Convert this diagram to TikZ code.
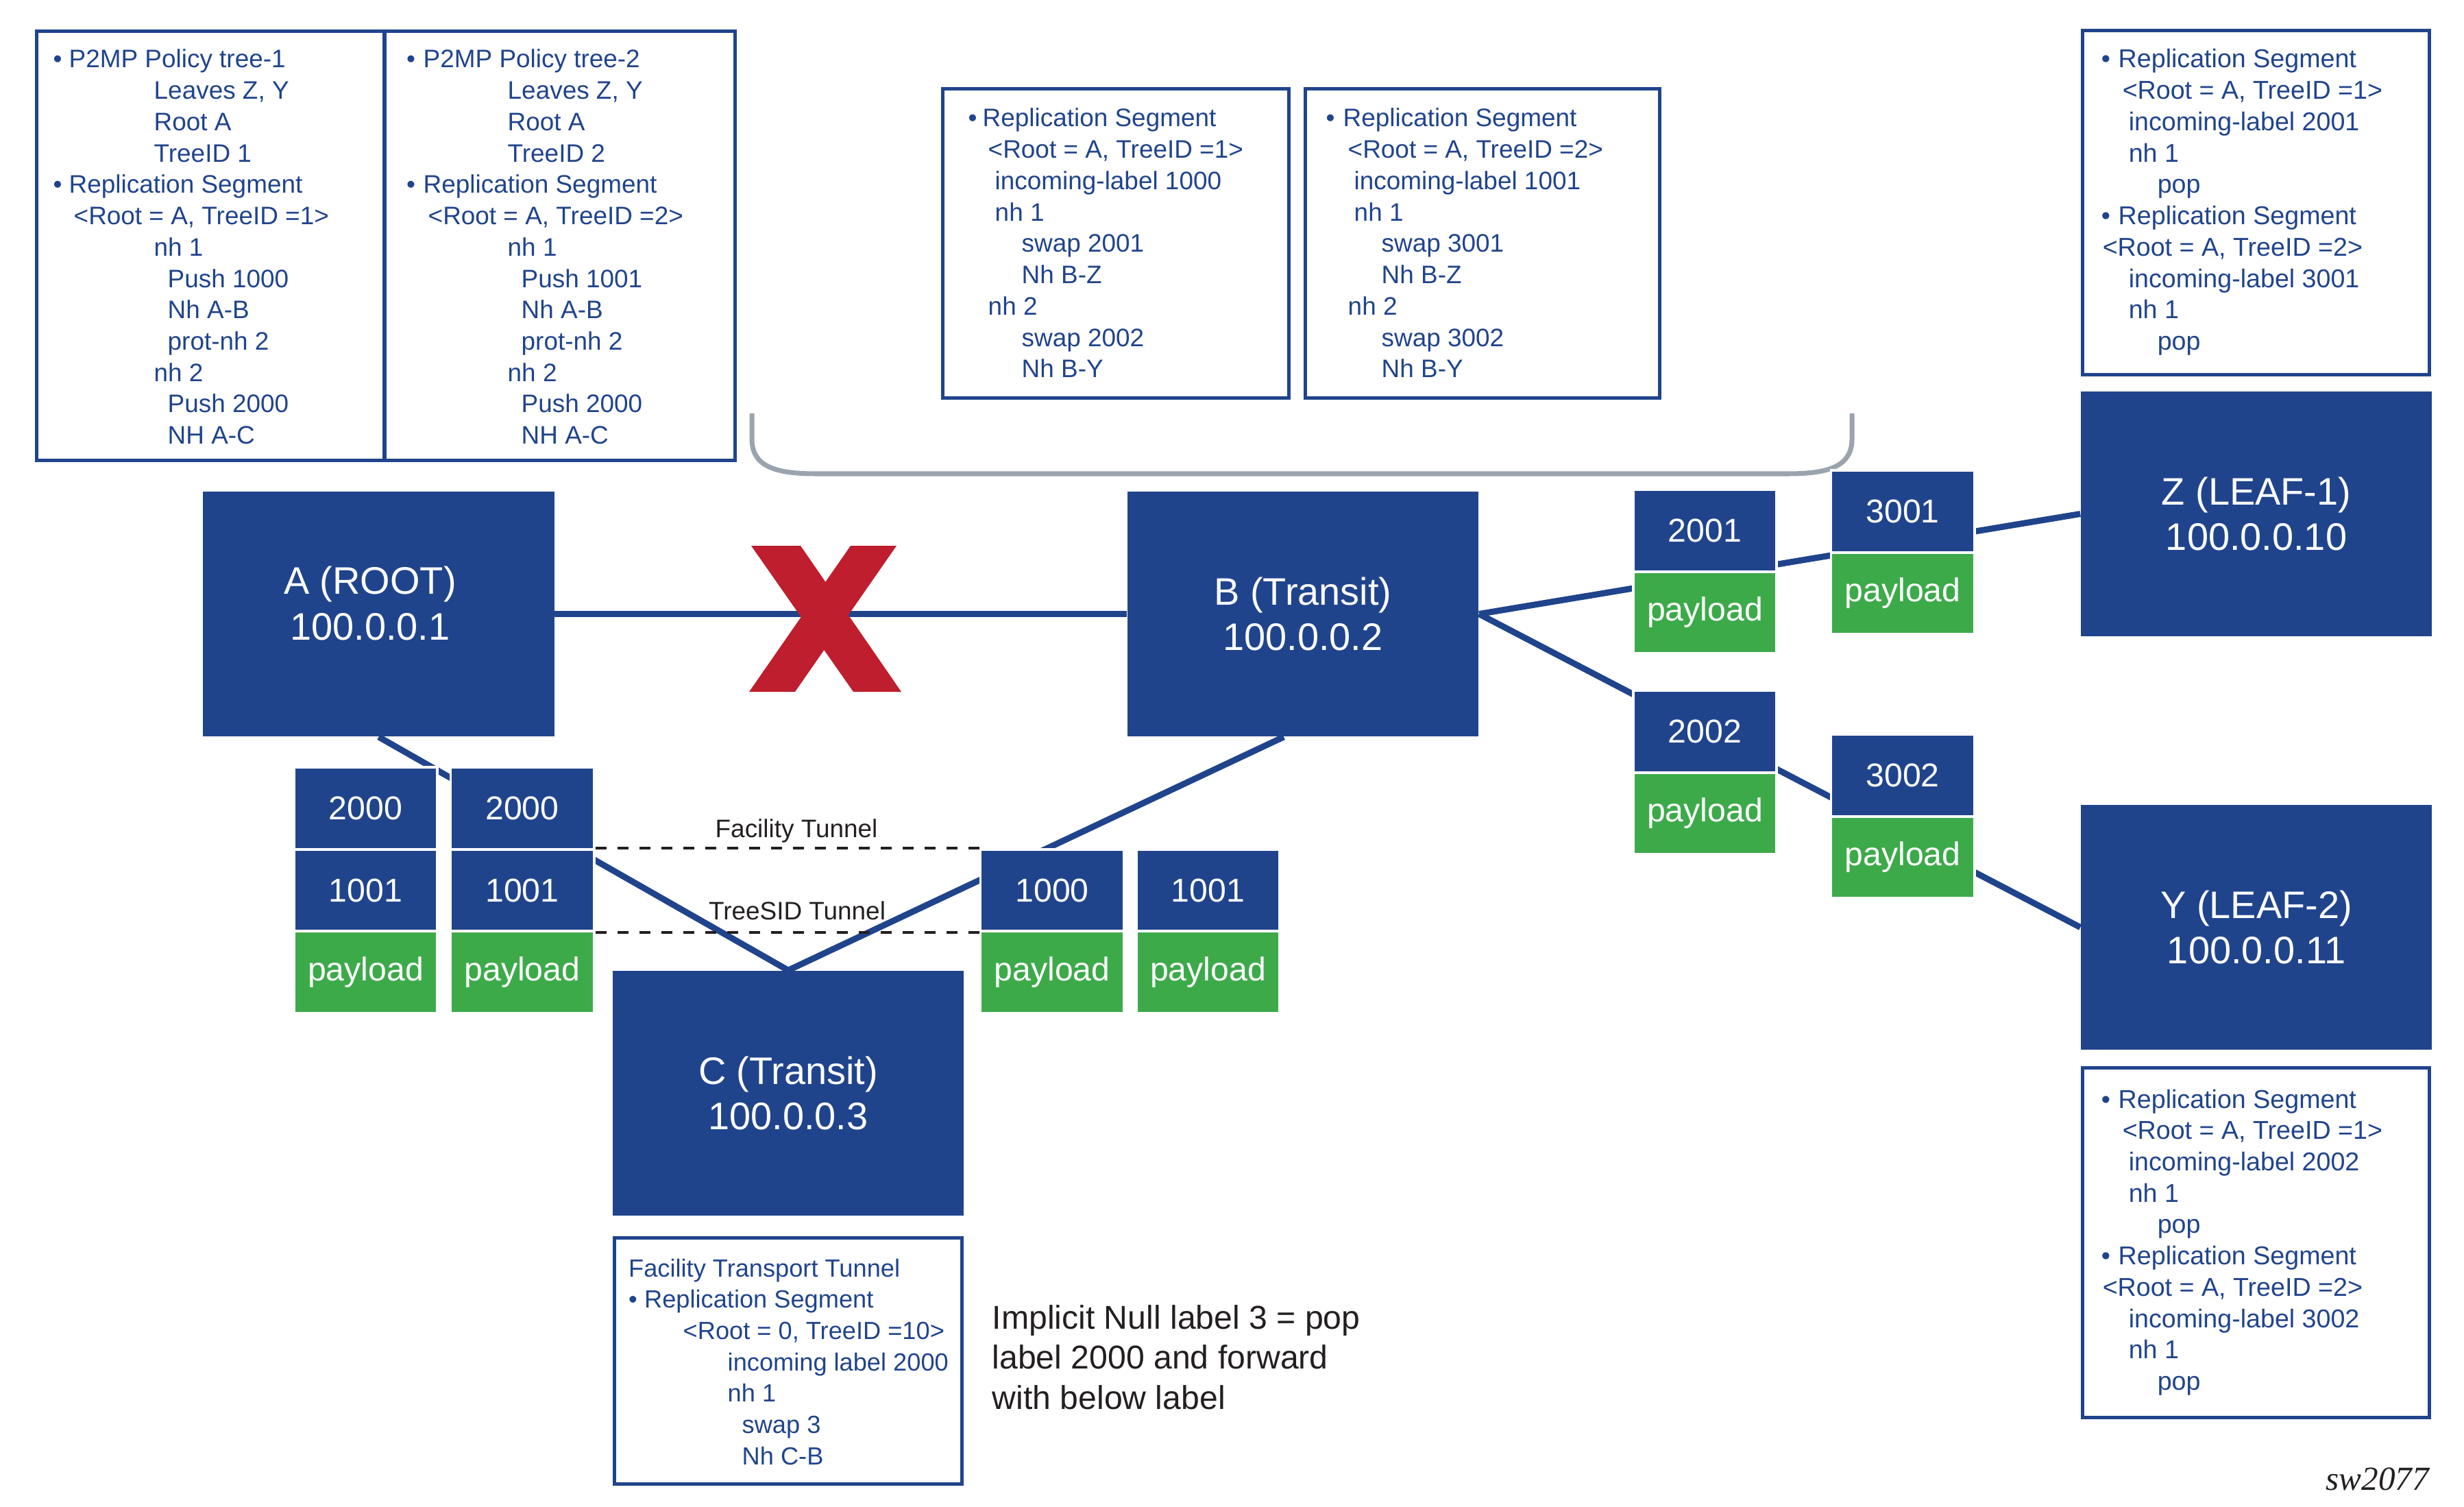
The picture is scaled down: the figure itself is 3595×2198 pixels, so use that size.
\documentclass[tikz,border=0pt]{standalone}
\usepackage{fontspec}
\setmainfont{Liberation Sans}
\newfontfamily\serifit{Liberation Serif}
\usetikzlibrary{calc}
\definecolor{nblue}{HTML}{20448C}
\definecolor{ngreen}{HTML}{3DAA4A}
\definecolor{ngray}{HTML}{9AA3AE}
\definecolor{nred}{HTML}{BE1E2D}
\definecolor{ndark}{HTML}{231F20}
\newlength\pxu \setlength\pxu{0.01cm}
\newcommand\Ln[2]{\mbox{}\hspace*{#1\pxu}#2\par}
\newcommand\Bl[3]{\mbox{}\hspace*{#1\pxu}\makebox[#2\pxu][l]{•}#3\par}
\newcommand\Tbox[2]{\parbox[t]{600\pxu}{\fontsize{#1}{13pt}\selectfont #2}}
\tikzset{
  router/.style={fill=nblue, minimum width=5.12cm, minimum height=3.57cm, inner sep=0pt},
  rtext/.style={text=white, font=\fontsize{15.9pt}{19pt}\selectfont, align=center},
  lbl/.style={fill=nblue, draw=white, line width=1.1pt, text=white, minimum width=2.09cm, minimum height=1.195cm, inner sep=0pt, font=\fontsize{13.7pt}{16pt}\selectfont},
  pay/.style={lbl, fill=ngreen},
  infobox/.style={draw=nblue, line width=1.42pt, inner sep=0pt},
  infotext/.style={anchor=base west, inner sep=0pt, text=nblue},
  link/.style={draw=nblue, line width=2.56pt},
  tunnel/.style={draw=ndark, line width=1.14pt, dash pattern=on 4.8pt off 4.3pt},
  tunlabel/.style={anchor=base, inner sep=0pt, text=ndark, font=\fontsize{10.5pt}{12pt}\selectfont},
}
\begin{document}
\begin{tikzpicture}[x=0.01cm, y=-0.01cm]
\useasboundingbox (0,0) rectangle (3595,2198);

% ---------- info boxes ----------
\node[infobox, minimum width=5.075cm, minimum height=6.26cm] (T1) at (307.25,358.5) {};
\node[infobox, minimum width=5.115cm, minimum height=6.26cm] (T2) at (816.75,358.5) {};
\node[infobox, minimum width=5.05cm, minimum height=4.51cm] (M1) at (1628,355) {};
\node[infobox, minimum width=5.17cm, minimum height=4.51cm] (M2) at (2163,355) {};
\node[infobox, minimum width=5.06cm, minimum height=5.02cm] (R1) at (3291.5,295.5) {};
\node[infobox, minimum width=5.06cm, minimum height=5.10cm] (R2) at (3291.5,1812.5) {};
\node[infobox, minimum width=5.07cm, minimum height=3.59cm] (F) at (1150,1985) {};

\node[infotext] (T1t) at (51,99) {\Tbox{10.5pt}{%
\Bl{26}{23}{P2MP Policy tree-1}
\Ln{173}{Leaves Z, Y}
\Ln{173}{Root A}
\Ln{173}{TreeID 1}
\Bl{26}{23}{Replication Segment}
\Ln{56}{<Root = A, TreeID =1>}
\Ln{173}{nh 1}
\Ln{193}{Push 1000}
\Ln{193}{Nh A-B}
\Ln{193}{prot-nh 2}
\Ln{173}{nh 2}
\Ln{193}{Push 2000}
\Ln{193}{NH A-C}}};

\node[infotext] (T2t) at (561,99) {\Tbox{10.5pt}{%
\Bl{31.5}{24.5}{P2MP Policy tree-2}
\Ln{179}{Leaves Z, Y}
\Ln{179}{Root A}
\Ln{179}{TreeID 2}
\Bl{31.5}{24.5}{Replication Segment}
\Ln{63}{<Root = A, TreeID =2>}
\Ln{179}{nh 1}
\Ln{199}{Push 1001}
\Ln{199}{Nh A-B}
\Ln{199}{prot-nh 2}
\Ln{179}{nh 2}
\Ln{199}{Push 2000}
\Ln{199}{NH A-C}}};

\node[infotext] (M1t) at (1373,185) {\Tbox{10.5pt}{%
\Bl{39}{21}{Replication Segment}
\Ln{68}{<Root = A, TreeID =1>}
\Ln{78}{incoming-label 1000}
\Ln{78}{nh 1}
\Ln{117}{swap 2001}
\Ln{117}{Nh B-Z}
\Ln{68}{nh 2}
\Ln{117}{swap 2002}
\Ln{117}{Nh B-Y}}};

\node[infotext] (M2t) at (1902,185) {\Tbox{10.5pt}{%
\Bl{32}{25}{Replication Segment}
\Ln{64}{<Root = A, TreeID =2>}
\Ln{73}{incoming-label 1001}
\Ln{73}{nh 1}
\Ln{113}{swap 3001}
\Ln{113}{Nh B-Z}
\Ln{64}{nh 2}
\Ln{113}{swap 3002}
\Ln{113}{Nh B-Y}}};

\node[infotext] (R1t) at (3036,99) {\Tbox{10.7pt}{%
\Bl{29}{25}{Replication Segment}
\Ln{60}{<Root = A, TreeID =1>}
\Ln{69}{incoming-label 2001}
\Ln{69}{nh 1}
\Ln{111}{pop}
\Bl{29}{25}{Replication Segment}
\Ln{31}{<Root = A, TreeID =2>}
\Ln{69}{incoming-label 3001}
\Ln{69}{nh 1}
\Ln{111}{pop}}};

\node[infotext] (R2t) at (3036,1616) {\Tbox{10.7pt}{%
\Bl{29}{25}{Replication Segment}
\Ln{60}{<Root = A, TreeID =1>}
\Ln{69}{incoming-label 2002}
\Ln{69}{nh 1}
\Ln{111}{pop}
\Bl{29}{25}{Replication Segment}
\Ln{31}{<Root = A, TreeID =2>}
\Ln{69}{incoming-label 3002}
\Ln{69}{nh 1}
\Ln{111}{pop}}};

\node[infotext] (Ft) at (894,1862) {\Tbox{10.3pt}{%
\Ln{22.5}{Facility Transport Tunnel}
\Bl{22.5}{23}{Replication Segment}
\Ln{102}{<Root = 0, TreeID =10>}
\Ln{167}{incoming label 2000}
\Ln{167}{nh 1}
\Ln{188}{swap 3}
\Ln{188}{Nh C-B}}};

% ---------- brace ----------
\draw[ngray, line width=2pt] (1097,603) -- (1097,640) .. controls (1097,680) and (1130,691) .. (1191,691) -- (2608,691) .. controls (2669,691) and (2702,680) .. (2702,640) -- (2702,603);

% ---------- routers ----------
\node[router] (A) at (552.5,895.5) {};
\node[rtext, inner sep=0pt] (Atxt) at (540,880) {A (ROOT)\\100.0.0.1};
\node[router, rtext] (B) at (1901,895.5) {B (Transit)\\100.0.0.2};
\node[router, rtext] (C) at (1150,1594.5) {C (Transit)\\100.0.0.3};
\node[router, rtext] (Z) at (3292,749.5) {Z (LEAF-1)\\100.0.0.10};
\node[router, rtext] (Y) at (3292,1352.5) {Y (LEAF-2)\\100.0.0.11};

% ---------- links ----------
\draw[link] (A.east) -- (B.west);
\draw[link] (A.south) -- (C.north);
\draw[link] ($(B.south)+(-28,0)$) -- (C.north);
\draw[link] (B.east) -- (Z.west);
\draw[link] (B.east) -- (Y.west);

% ---------- failure mark ----------
\fill[nred] (1096,796) -- (1168,796) -- (1315,1009) -- (1245,1009) -- cycle;
\fill[nred] (1241,796) -- (1308,796) -- (1160,1009) -- (1093,1009) -- cycle;

% ---------- label stacks ----------
\node[lbl] (s1a) at (533.5,1179) {2000};
\node[lbl] (s1b) at (533.5,1298.5) {1001};
\node[pay] (s1c) at (533.5,1418) {payload};
\node[lbl] (s2a) at (762,1179) {2000};
\node[lbl] (s2b) at (762,1298.5) {1001};
\node[pay] (s2c) at (762,1418) {payload};
\node[lbl] (s3b) at (1535,1298.5) {1000};
\node[pay] (s3c) at (1535,1418) {payload};
\node[lbl] (s4b) at (1762.5,1298.5) {1001};
\node[pay] (s4c) at (1762.5,1418) {payload};

\node[lbl] (z1a) at (2487.5,774) {2001};
\node[pay] (z1b) at (2487.5,893.5) {payload};
\node[lbl] (z2a) at (2776,746) {3001};
\node[pay] (z2b) at (2776,865.5) {payload};
\node[lbl] (y1a) at (2487.5,1067) {2002};
\node[pay] (y1b) at (2487.5,1186.5) {payload};
\node[lbl] (y2a) at (2776,1131) {3002};
\node[pay] (y2b) at (2776,1250.5) {payload};

% ---------- tunnels ----------
\draw[tunnel] (s2b.north east) -- (s3b.north west);
\draw[tunnel] (s2b.south east) -- (s3b.south west);
\node[tunlabel] (ftl) at (1162,1221) {Facility Tunnel};
\node[tunlabel] (ttl) at (1163,1341) {TreeSID Tunnel};

% ---------- note ----------
\node[anchor=base west, inner sep=0pt, text=ndark] (note) at (1447,1938)
  {\parbox[t]{1000\pxu}{\fontsize{13.7pt}{16.64pt}\selectfont Implicit Null label 3 = pop\par label 2000 and forward\par with below label}};

\node[anchor=base west, inner sep=0pt, text=ndark, font=\serifit\itshape\fontsize{14pt}{16pt}\selectfont] (sw) at (3393,2173) {sw2077};
\end{tikzpicture}
\end{document}
